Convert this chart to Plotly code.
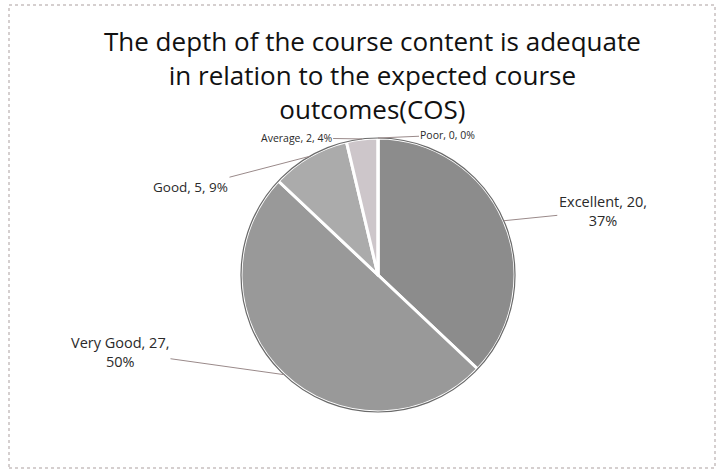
import math
import plotly.graph_objects as go

# data
categories = ["Excellent", "Very Good", "Good", "Average", "Poor"]
counts = [20, 27, 5, 2, 0]
colors = ["#8c8c8c", "#999999", "#ababab", "#cdc6ca", "#d8d8d8"]

W, H = 719, 471
CX, CY, R = 378, 275, 137  # pie centre / radius in pixels

# label text offsets (pixels, text centre relative to leader-line tip)
label_offsets = [(99, -10), (-164, -23), (-119, 31), (-66, -1), (70, -3)]
label_sizes = [14.5, 14.5, 13.5, 10.5, 10.5]

total = sum(counts)
labels = []
for c, v in zip(categories, counts):
    pct = round(100 * v / total)
    if c in ("Excellent", "Very Good"):
        labels.append(f"{c}, {v},<br>{pct}%")
    else:
        labels.append(f"{c}, {v}, {pct}%")

fig = go.Figure(go.Pie(
    labels=categories,
    values=counts,
    sort=False,
    direction="clockwise",
    rotation=0,
    textinfo="none",
    hoverinfo="label+value+percent",
    marker=dict(colors=colors, line=dict(color="white", width=3)),
    domain=dict(x=[(CX - R) / W, (CX + R) / W], y=[1 - (CY + R) / H, 1 - (CY - R) / H]),
    showlegend=False,
))

# leader-line labels, tip at slice mid-angle on the rim
annotations = []
start = 0.0
for i, v in enumerate(counts):
    span = 360.0 * v / total
    mid = math.radians(start + span / 2)
    start += span
    px = CX + R * math.sin(mid)
    py = CY - R * math.cos(mid)
    dx, dy = label_offsets[i]
    annotations.append(dict(
        x=px / W, y=1 - py / H, xref="paper", yref="paper",
        text=labels[i], showarrow=True, arrowhead=0, arrowwidth=1,
        arrowcolor="#9a8a8a", ax=dx, ay=dy, standoff=0,
        font=dict(family="Open Sans, sans-serif", size=label_sizes[i], color="#2a2a2a"),
        align="center",
    ))

# title as a centred annotation
annotations.append(dict(
    x=372 / W, y=1 - 75 / H, xref="paper", yref="paper",
    xanchor="center", yanchor="middle", showarrow=False,
    text="The depth of the course content is adequate<br>in relation to the expected course<br>outcomes(COS)",
    font=dict(family="Open Sans, sans-serif", size=26, color="#111111"),
))

fig.update_layout(
    width=W, height=H,
    margin=dict(l=0, r=0, t=0, b=0),
    paper_bgcolor="white",
    annotations=annotations,
    shapes=[
        dict(type="rect", xref="paper", yref="paper", x0=9 / W, x1=715 / W, y0=1 - 468 / H, y1=1 - 5 / H,
             line=dict(color="#c8c0c0", width=1.5, dash="dot")),
        dict(type="circle", xref="paper", yref="paper",
             x0=(CX - R) / W, x1=(CX + R) / W, y0=1 - (CY + R) / H, y1=1 - (CY - R) / H,
             line=dict(color="#6a6a6a", width=1.2)),
    ],
)

fig.write_html("out.html", config={"displayModeBar": False},
               post_script="document.body.style.margin='0';")
